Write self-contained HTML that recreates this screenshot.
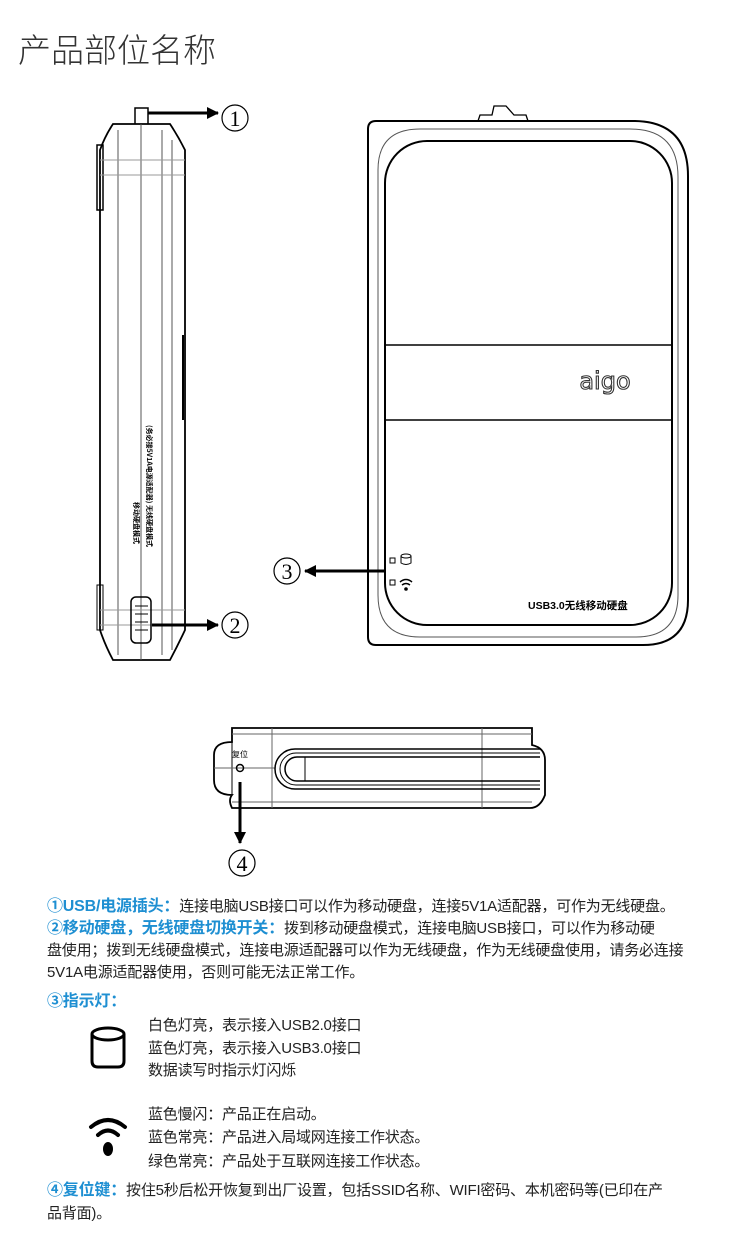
<!DOCTYPE html>
<html><head><meta charset="utf-8">
<style>
body{margin:0;background:#fff;width:750px;height:1260px;position:relative;overflow:hidden;font-family:"Liberation Sans","Noto Sans CJK SC",sans-serif;color:#222}
.t{position:absolute;font-size:15px;line-height:22px;white-space:nowrap;letter-spacing:-0.2px}
.b{color:#1e8fd2;font-weight:bold;font-size:16px}
</style></head><body>
<div style="position:absolute;left:18px;top:24px;font-size:33px;color:#333;font-family:'Noto Sans CJK SC',sans-serif;font-weight:300">产品部位名称</div>
<svg width="750" height="900" style="position:absolute;left:0;top:0" font-family="Liberation Serif">
<defs><marker id="ah" markerWidth="12" markerHeight="12" refX="11" refY="6" orient="auto" markerUnits="userSpaceOnUse"><path d="M0,0 L12,6 L0,12 z" fill="#000"/></marker></defs>
<g fill="none" stroke="#000" stroke-width="1">
<path d="M135,124 L135,108 L148,108 L148,124" stroke-width="1.5"/>
<path d="M113,124 L170,124 Q178,136 185,150 L185,630 Q178,645 170,660 L113,660 Q105,645 100,630 L100,150 Q105,136 113,124 Z" stroke-width="1.8"/>
<rect x="97" y="145" width="6" height="65" stroke-width="1.5"/>
<rect x="97" y="585" width="6" height="45"/>
<line x1="118" y1="130" x2="118" y2="655" stroke="#555"/>
<line x1="141" y1="124" x2="141" y2="660" stroke="#555"/>
<line x1="162" y1="130" x2="162" y2="655" stroke="#555"/>
<line x1="172" y1="140" x2="172" y2="650" stroke="#555"/>
<line x1="100" y1="160" x2="185" y2="160" stroke="#999"/>
<line x1="100" y1="175" x2="185" y2="175" stroke="#999"/>
<line x1="100" y1="610" x2="185" y2="610" stroke="#999"/>
<line x1="100" y1="625" x2="185" y2="625" stroke="#999"/>
<line x1="183" y1="335" x2="183" y2="420" stroke-width="2"/>
<rect x="131" y="597" width="20" height="46" rx="5" stroke-width="1.5"/>
<line x1="135" y1="606" x2="148" y2="606"/><line x1="135" y1="614" x2="148" y2="614"/><line x1="135" y1="622" x2="148" y2="622"/><line x1="135" y1="630" x2="148" y2="630"/>
<path d="M376,121 L633,121 Q688,121 688,176 L688,600 Q688,645 643,645 L376,645 Q368,645 368,637 L368,129 Q368,121 376,121 Z" stroke-width="2"/>
<path d="M420,129 L630,129 Q678,129 678,177 L678,595 Q678,637 636,637 L420,637 Q378,637 378,595 L378,170 Q378,129 420,129 Z" stroke="#555"/>
<rect x="385" y="141" width="287" height="484" rx="42" stroke-width="2"/>
<line x1="385" y1="345" x2="672" y2="345" stroke-width="1.5"/>
<line x1="385" y1="420" x2="672" y2="420" stroke-width="1.5"/>
<path d="M478,121 L480,115 L492,115 L494,106 L506,106 L514,115 L526,115 L528,121" stroke-width="1.3"/>
<rect x="390" y="558" width="5" height="5"/><rect x="390" y="580" width="5" height="5"/>
<ellipse cx="406" cy="556" rx="5" ry="2"/><path d="M401,556 L401,563 Q406,566 411,563 L411,556"/>
<path d="M400,582 Q406,577 412,582 M402,585 Q406,582 410,585" stroke-width="1.5"/>
</g>
<circle cx="406" cy="589" r="1.8" fill="#000"/>
<text x="605" y="389" font-family="DejaVu Sans" font-size="24" fill="#fff" stroke="#333" stroke-width="1.1" text-anchor="middle">aigo</text>
<text x="528" y="609" font-family="Liberation Sans,Noto Sans CJK SC,sans-serif" font-size="10.5" font-weight="bold">USB3.0无线移动硬盘</text>
<g transform="translate(150,500) rotate(90)"><text x="-75" y="3" font-family="Noto Sans CJK SC,sans-serif" font-size="7" font-weight="bold">(务必接5V1A电源适配器) 无线硬盘模式</text></g>
<g transform="translate(137,530) rotate(90)"><text x="-28" y="3" font-family="Noto Sans CJK SC,sans-serif" font-size="7" font-weight="bold">移动硬盘模式</text></g>
<line x1="148" y1="113" x2="218" y2="113" stroke="#000" stroke-width="3" marker-end="url(#ah)"/>
<circle cx="235" cy="118" r="13" fill="none" stroke="#000" stroke-width="1.2"/><text x="235" y="126" font-size="22" text-anchor="middle">1</text>
<line x1="152" y1="625" x2="218" y2="625" stroke="#000" stroke-width="3" marker-end="url(#ah)"/>
<circle cx="235" cy="625" r="13" fill="none" stroke="#000" stroke-width="1.2"/><text x="235" y="633" font-size="22" text-anchor="middle">2</text>
<line x1="385" y1="571" x2="305" y2="571" stroke="#000" stroke-width="3" marker-end="url(#ah)"/>
<circle cx="287" cy="571" r="13" fill="none" stroke="#000" stroke-width="1.2"/><text x="287" y="579" font-size="22" text-anchor="middle">3</text>
<g fill="none" stroke="#000">
<path d="M232,728 L532,728 L532,745 Q545,748 545,760 L545,795 Q540,808 530,808 L232,808 Q228,800 232,795 Q214,795 214,780 L214,755 Q214,742 232,742 Z" stroke-width="1.8"/>
<line x1="232" y1="742" x2="232" y2="795"/>
<line x1="272" y1="728" x2="272" y2="808" stroke="#666"/>
<line x1="482" y1="728" x2="482" y2="808" stroke="#666"/>
<line x1="214" y1="768" x2="275" y2="768" stroke="#666"/>
<path d="M540,749 L295,749 A20,20 0 0 0 295,789 L540,789" stroke-width="1.5"/>
<path d="M540,753 L296,753 A16,16 0 0 0 296,785 L540,785"/>
<path d="M540,757 L297,757 A12,12 0 0 0 297,781 L540,781" stroke-width="1.5"/>
<line x1="232" y1="734" x2="532" y2="734" stroke="#666"/>
<line x1="232" y1="802" x2="532" y2="802" stroke="#666"/>
<line x1="305" y1="757" x2="305" y2="781"/>
<circle cx="240" cy="768" r="3.5" stroke-width="1.5"/>
</g>
<text x="240" y="757" font-family="Noto Sans CJK SC,sans-serif" font-size="8" text-anchor="middle">复位</text>
<line x1="240" y1="782" x2="240" y2="843" stroke="#000" stroke-width="3" marker-end="url(#ah)"/>
<circle cx="242" cy="863" r="13" fill="none" stroke="#000" stroke-width="1.2"/><text x="242" y="871" font-size="22" text-anchor="middle">4</text>
</svg>

<div class="t" style="left:47px;top:896px"><span class="b">①USB/电源插头：</span>连接电脑USB接口可以作为移动硬盘，连接5V1A适配器，可作为无线硬盘。</div>
<div class="t" style="left:47px;top:918px"><span class="b">②移动硬盘，无线硬盘切换开关：</span>拨到移动硬盘模式，连接电脑USB接口，可以作为移动硬</div>
<div class="t" style="left:47px;top:940px">盘使用；拨到无线硬盘模式，连接电源适配器可以作为无线硬盘，作为无线硬盘使用，请务必连接</div>
<div class="t" style="left:47px;top:962px">5V1A电源适配器使用，否则可能无法正常工作。</div>
<div class="t" style="left:47px;top:991px"><span class="b">③指示灯：</span></div>
<svg width="40" height="50" style="position:absolute;left:88px;top:1025px"><g fill="none" stroke="#000" stroke-width="3"><ellipse cx="20" cy="9" rx="16" ry="6"/><path d="M4,9 L4,36 Q4,42 10,42 L30,42 Q36,42 36,36 L36,9"/></g></svg>
<div class="t" style="left:148px;top:1015px">白色灯亮，表示接入USB2.0接口</div>
<div class="t" style="left:148px;top:1038px">蓝色灯亮，表示接入USB3.0接口</div>
<div class="t" style="left:148px;top:1060px">数据读写时指示灯闪烁</div>
<svg width="40" height="44" style="position:absolute;left:88px;top:1115px"><g fill="none" stroke="#000" stroke-width="4" stroke-linecap="round"><path d="M3,12 Q20,-2 37,12"/><path d="M10,20 Q20,11 30,20"/></g><ellipse cx="20" cy="34" rx="5" ry="7" fill="#000"/></svg>
<div class="t" style="left:148px;top:1104px">蓝色慢闪：产品正在启动。</div>
<div class="t" style="left:148px;top:1127px">蓝色常亮：产品进入局域网连接工作状态。</div>
<div class="t" style="left:148px;top:1151px">绿色常亮：产品处于互联网连接工作状态。</div>
<div class="t" style="left:47px;top:1180px"><span class="b">④复位键：</span>按住5秒后松开恢复到出厂设置，包括SSID名称、WIFI密码、本机密码等(已印在产</div>
<div class="t" style="left:47px;top:1203px">品背面)。</div>
</body></html>
